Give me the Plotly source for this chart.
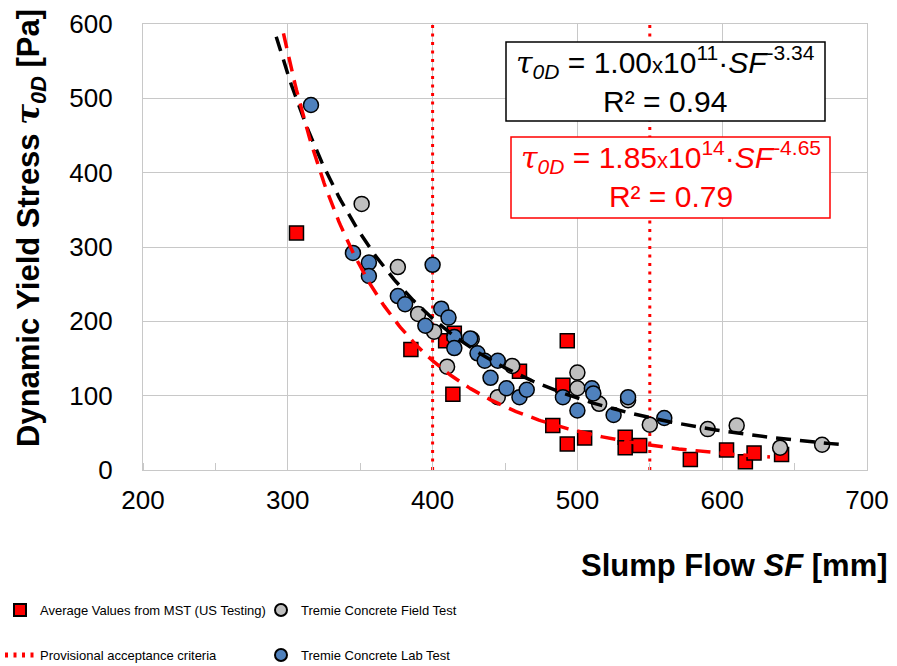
import numpy as np
import plotly.graph_objects as go

# ---- data ----
mst_sf = [306, 385, 409, 415, 414, 460, 493, 490, 483, 493, 505, 533, 533, 543, 578, 603, 616, 622, 641]
mst_ty = [319, 162, 174, 184, 102, 133, 174, 114, 60, 35, 43, 44, 30, 33, 14, 27, 11, 23, 21]

field_sf = [351, 376, 390, 401, 410, 427, 445, 455, 500, 500, 515, 535, 550, 590, 610, 640, 669]
field_ty = [358, 273, 210, 186, 139, 176, 98, 140, 131, 110, 89, 94, 61, 55, 60, 30, 34]

lab_sf = [316, 345, 356, 356, 376, 381, 400, 406, 411, 395, 415, 415, 426, 431, 436, 445, 440,
          451, 460, 465, 490, 500, 510, 511, 525, 535, 560]
lab_ty = [491, 292, 279, 261, 234, 223, 276, 217, 205, 194, 179, 164, 177, 157, 147, 147, 124,
          110, 98, 108, 98, 80, 110, 103, 74, 98, 70]

criteria_sf = [400, 550]

# power-law trendlines shown in the chart: tau = a * SF^b
fit_all_a, fit_all_b, fit_all_range = 1.00e11, -3.34, (292, 685)
fit_mst_a, fit_mst_b, fit_mst_range = 1.85e14, -4.65, (297, 633)

x_ticks = [200, 300, 400, 500, 600, 700]
y_ticks = [0, 100, 200, 300, 400, 500, 600]

FONT = "Liberation Sans, Arial, sans-serif"

fig = go.Figure()

# provisional acceptance criteria (dotted verticals)
cx, cy = [], []
for v in criteria_sf:
    cx += [v, v, None]
    cy += [0, 600, None]
fig.add_trace(go.Scatter(x=cx, y=cy, mode="lines", name="Provisional acceptance criteria",
                         line=dict(color="#FF0000", width=3, dash="3px,5.5px"),
                         legend="legend2", hoverinfo="skip"))

fig.add_trace(go.Scatter(x=mst_sf, y=mst_ty, mode="markers", name="Average Values from MST (US Testing)",
                         marker=dict(symbol="square", size=14, color="#FF0000",
                                     line=dict(color="#000000", width=1.5)),
                         legend="legend"))
fig.add_trace(go.Scatter(x=field_sf, y=field_ty, mode="markers", name="Tremie Concrete Field Test",
                         marker=dict(symbol="circle", size=15, color="#BFBFBF",
                                     line=dict(color="#000000", width=1.5)),
                         legend="legend"))
fig.add_trace(go.Scatter(x=lab_sf, y=lab_ty, mode="markers", name="Tremie Concrete Lab Test",
                         marker=dict(symbol="circle", size=15, color="#4F81BD",
                                     line=dict(color="#000000", width=1.5)),
                         legend="legend2"))

xs = np.linspace(fit_all_range[0], fit_all_range[1], 300)
fig.add_trace(go.Scatter(x=xs, y=fit_all_a * xs ** fit_all_b, mode="lines", showlegend=False,
                         line=dict(color="#000000", width=3.5, dash="15px,9px"), hoverinfo="skip"))
xr = np.linspace(fit_mst_range[0], fit_mst_range[1], 300)
fig.add_trace(go.Scatter(x=xr, y=fit_mst_a * xr ** fit_mst_b, mode="lines", showlegend=False,
                         line=dict(color="#FF0000", width=3.5, dash="15px,9px"), hoverinfo="skip"))

L, R, T, B = 143, 30, 24, 196
W, H = 897, 666
pw, ph = W - L - R, H - T - B


def px(xp):
    return (xp - L) / pw


def py(yp):
    return (H - B - yp) / ph


tau = "<span style='font-family:DejaVu Serif'><i>τ</i></span><sub><i>0D</i></sub>"
eq1 = (tau + " = 1.00<span style='font-size:22px'>x</span>10<sup>11</sup>·<i>SF</i><sup>-3.34</sup>"
       "<br>R² = 0.94")
eq2 = (tau + " = 1.85<span style='font-size:22px'>x</span>10<sup>14</sup>·<i>SF</i><sup>-4.65</sup>"
       "<br>R² = 0.79")

shapes = [
    dict(type="rect", xref="paper", yref="paper", x0=px(506), x1=px(825), y0=py(121), y1=py(42),
         line=dict(color="#000000", width=1.5), fillcolor="#FFFFFF", layer="above"),
    dict(type="rect", xref="paper", yref="paper", x0=px(511), x1=px(830), y0=py(218), y1=py(137),
         line=dict(color="#FF0000", width=1.5), fillcolor="#FFFFFF", layer="above"),
]

annotations = [
    dict(text=eq1, xref="paper", yref="paper", x=px(665.5), y=py(79.5), xanchor="center",
         yanchor="middle", showarrow=False, font=dict(family=FONT, size=30, color="#000000"),
         align="center"),
    dict(text=eq2, xref="paper", yref="paper", x=px(670.5), y=py(174.5), xanchor="center",
         yanchor="middle", showarrow=False, font=dict(family=FONT, size=30, color="#FF0000"),
         align="center"),
    dict(text="<b>Slump Flow <i>SF</i> [mm]</b>", xref="paper", yref="paper", x=px(890), y=py(565),
         xanchor="right", yanchor="middle", showarrow=False,
         font=dict(family=FONT, size=31, color="#000000")),
    dict(text="<b>Dynamic Yield Stress " + tau + " [Pa]</b>", xref="paper", yref="paper",
         x=px(30), y=py(228), xanchor="center", yanchor="middle", textangle=-90, showarrow=False,
         font=dict(family=FONT, size=31, color="#000000")),
]

axis_common = dict(showgrid=True, gridcolor="#C8C8C8", gridwidth=1.3, showline=True,
                   linecolor="#C8C8C8", linewidth=1.3, mirror=True, zeroline=False,
                   tickfont=dict(family=FONT, size=26, color="#000000"), ticks="")

legend_common = dict(orientation="h", xref="container", yref="container", xanchor="left",
                     yanchor="top", font=dict(family=FONT, size=13, color="#000000"),
                     itemsizing="constant", entrywidth=216, entrywidthmode="pixels",
                     bgcolor="rgba(0,0,0,0)")

fig.update_layout(
    width=W, height=H, margin=dict(l=L, r=R, t=T, b=B, pad=0, autoexpand=False),
    paper_bgcolor="#FFFFFF", plot_bgcolor="#FFFFFF",
    xaxis=dict(range=[200, 700], tickvals=x_ticks, ticklabelstandoff=7,
               minor=dict(ticks="inside", dtick=50, ticklen=7, tickcolor="#C8C8C8", tickwidth=1.3,
                          showgrid=False),
               **axis_common),
    yaxis=dict(range=[0, 600], tickvals=y_ticks, ticklabelstandoff=24, **axis_common),
    annotations=annotations,
    shapes=shapes,
    showlegend=True,
    legend=dict(x=-8 / W, y=1 - 595 / H, **legend_common),
    legend2=dict(x=-8 / W, y=1 - 640 / H, **legend_common),
)

fig.write_html("out.html")
